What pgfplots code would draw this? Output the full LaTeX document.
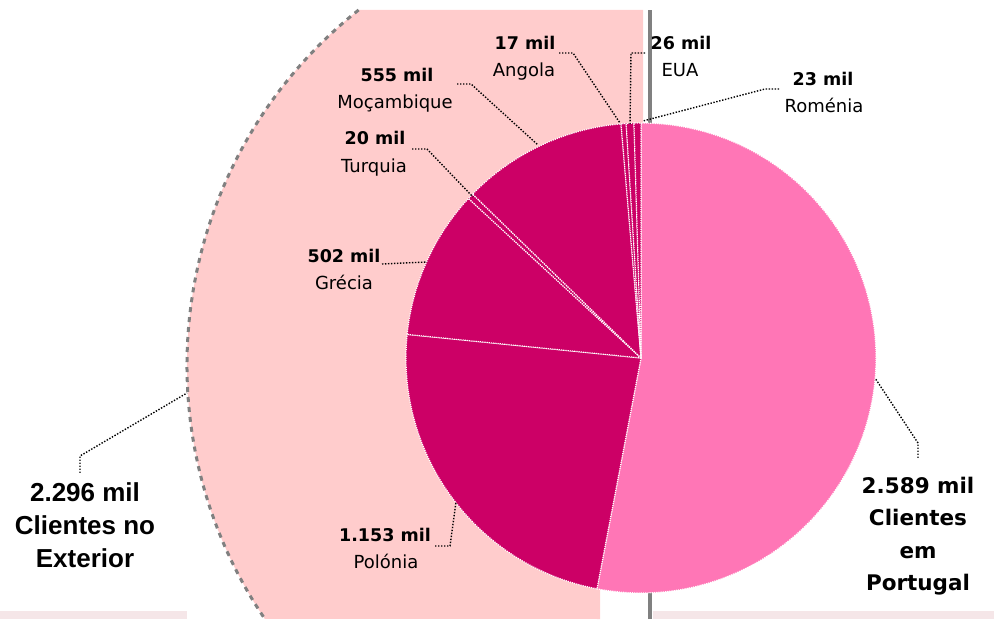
\documentclass[border=0pt]{standalone}
\usepackage{pgfplots}
\pgfplotsset{compat=1.18}
\usepackage{pgfplotstable}
\usepackage{fontspec}
\setmainfont{DejaVu Sans}
\newfontfamily\arialfont{Liberation Sans}
\definecolor{bgpink}{HTML}{FFCCCC}
\definecolor{ptpink}{HTML}{FF76B6}
\definecolor{expink}{HTML}{CC0066}
\definecolor{stripc}{HTML}{F5E6E8}
\definecolor{lgray}{HTML}{808080}
\pgfplotstableread{
name value
Portugal 2589
Polonia 1153
Grecia 502
Turquia 20
Mocambique 555
Angola 17
EUA 26
Romenia 23
}\piedata
\newcommand\slice[3]{%
  \fill[#3] (axis cs:641,261) -- ++(#1:235) arc[start angle=#1, end angle=#2, radius=235] -- cycle;
  \draw[white, line width=1.2pt, dash pattern=on 1.2pt off 1pt] (axis cs:641,261) -- ++(#1:235) arc[start angle=#1, end angle=#2, radius=235] -- cycle;
}
\tikzset{
  lead/.style={black, line width=1.4pt, dash pattern=on 1.4pt off 1.6pt},
  nb/.style={anchor=base, inner sep=0pt, font=\bfseries\fontsize{17.5}{20}\selectfont},
  nr/.style={anchor=base, inner sep=0pt, font=\fontsize{18}{20}\selectfont},
  pt/.style={anchor=base, inner sep=0pt, font=\bfseries\fontsize{21.5}{24}\selectfont},
  ex/.style={anchor=base, inner sep=0pt, font=\arialfont\bfseries\fontsize{26}{28}\selectfont},
}
\begin{document}
\begin{tikzpicture}
\begin{axis}[x=1pt, y=1pt, xmin=0, xmax=994, ymin=0, ymax=619,
  hide axis, disabledatascaling, clip=true]
\coordinate (LL) at (axis cs:0,0);
\coordinate (UR) at (axis cs:994,619);
% bottom strips
\fill[stripc] (axis cs:0,0) rectangle (axis cs:187,8);
\fill[stripc] (axis cs:653,0) rectangle (axis cs:994,8);
% background shape
\fill[bgpink] (axis cs:643,609) -- (axis cs:358.6,609) arc[start angle=128.4, end angle=214.1, radius=453] -- (axis cs:600,0) -- (axis cs:600,30) -- (axis cs:643,261) -- cycle;
\draw[lgray, line width=3pt, dash pattern=on 5pt off 5pt] (axis cs:358.6,609) arc[start angle=128.4, end angle=214.1, radius=453];
% gray vertical line
\draw[lgray, line width=4pt] (axis cs:650,0) -- (axis cs:650,609);
% pie
\xdef\pietotal{0}
\pgfplotstableforeachcolumnelement{value}\of\piedata\as\v{%
  \pgfmathsetmacro\mysum{\pietotal+\v}\xdef\pietotal{\mysum}}
\xdef\curang{90}
\pgfplotstableforeachcolumnelement{value}\of\piedata\as\v{%
  \pgfmathsetmacro\newang{\curang-\v/\pietotal*360}%
  \ifnum\pgfplotstablerow=0 \def\col{ptpink}\else\def\col{expink}\fi
  \edef\tmp{\noexpand\slice{\curang}{\newang}{\col}}%
  \tmp
  \xdef\curang{\newang}%
}
% leader lines
\draw[lead] (axis cs:559,566) -- (axis cs:573,566) -- (axis cs:620,496);
\draw[lead] (axis cs:645,566) -- (axis cs:631,566) -- (axis cs:630,495);
\draw[lead] (axis cs:779,530) -- (axis cs:765,530) -- (axis cs:643,498);
\draw[lead] (axis cs:457,535) -- (axis cs:471,535) -- (axis cs:538,474);
\draw[lead] (axis cs:412,470) -- (axis cs:427,470) -- (axis cs:473,422);
\draw[lead] (axis cs:382,355) -- (axis cs:427,357);
\draw[lead] (axis cs:435,73) -- (axis cs:450,73) -- (axis cs:456,117);
\draw[lead] (axis cs:80,146) -- (axis cs:80,163) -- (axis cs:187,226);
\draw[lead] (axis cs:918,161) -- (axis cs:918,176) -- (axis cs:875,241);
% labels
\node[nb] at (axis cs:525,569) {17 mil};
\node[nr] at (axis cs:524,542) {Angola};
\node[nb] at (axis cs:681,569) {26 mil};
\node[nr] at (axis cs:680,542) {EUA};
\node[nb] at (axis cs:823,533) {23 mil};
\node[nr] at (axis cs:824,506) {Roménia};
\node[nb] at (axis cs:397,537) {555 mil};
\node[nr] at (axis cs:395,510) {Moçambique};
\node[nb] at (axis cs:375,474) {20 mil};
\node[nr] at (axis cs:374,446) {Turquia};
\node[nb] at (axis cs:344,356) {502 mil};
\node[nr] at (axis cs:344,329) {Grécia};
\node[nb] at (axis cs:385,77) {1.153 mil};
\node[nr] at (axis cs:386,50) {Polónia};
\node[ex] at (axis cs:85,117) {2.296 mil};
\node[ex] at (axis cs:85,84) {Clientes no};
\node[ex] at (axis cs:85,52) {Exterior};
\node[pt] at (axis cs:918,125) {2.589 mil};
\node[pt] at (axis cs:918,93) {Clientes};
\node[pt] at (axis cs:918,60) {em};
\node[pt] at (axis cs:918,28) {Portugal};
\end{axis}
\pgfresetboundingbox
\path[use as bounding box] (LL) rectangle (UR);
\end{tikzpicture}
\end{document}
